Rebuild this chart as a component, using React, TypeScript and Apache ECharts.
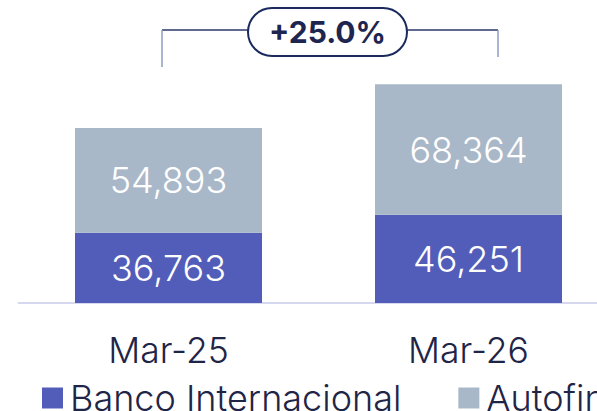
import React, { useEffect, useRef } from "react";
import * as echarts from "echarts";

const categories = ["Mar-25", "Mar-26"];
const seriesNames = ["Banco Internacional", "Autofin"];
const bancoValues = [36763, 46251];
const autofinValues = [54893, 68364];
const colors = ["#525dba", "#a9b8c8"];

const FONT = "Inter, 'Noto Sans', sans-serif";
const NAVY = "#1f2547";

export default function App() {
  const ref = useRef<HTMLDivElement>(null);
  useEffect(() => {
    if (!ref.current) return;
    const chart = echarts.init(ref.current, undefined, { renderer: "svg" });
    const t0 = bancoValues[0] + autofinValues[0];
    const t1 = bancoValues[1] + autofinValues[1];
    const growth = ((t1 / t0 - 1) * 100).toFixed(1);
    const fmt = (p: any) => Number(p.value).toLocaleString("en-US");
    chart.setOption({
      animation: false,
      textStyle: { fontFamily: FONT },
      grid: { left: 18.5, right: 21.5, top: 74, bottom: 108 },
      xAxis: {
        type: "category",
        data: categories,
        axisLine: { show: true, lineStyle: { color: "#d5d8ee", width: 2 } },
        axisTick: { show: false },
        axisLabel: {
          color: NAVY,
          fontSize: 35.5,
          fontWeight: 300,
          fontFamily: FONT,
          margin: 29,
        },
      },
      yAxis: {
        type: "value",
        min: 0,
        max: 120000,
        show: false,
        splitLine: { show: false },
      },
      legend: {
        left: 37,
        top: 375,
        width: 1000,
        icon: "rect",
        itemWidth: 21,
        itemHeight: 21,
        itemGap: 57,
        selectedMode: false,
        textStyle: {
          color: NAVY,
          fontSize: 36,
          fontWeight: 300,
          fontFamily: FONT,
          padding: [0, 0, 0, 2],
        },
        data: seriesNames,
      },
      series: [
        {
          name: seriesNames[0],
          type: "bar",
          stack: "total",
          data: bancoValues,
          barWidth: 187,
          itemStyle: { color: colors[0] },
          label: {
            show: true,
            position: "inside",
            color: "#ffffff",
            fontSize: 36,
            fontWeight: 300,
            fontFamily: FONT,
            formatter: fmt,
          },
        },
        {
          name: seriesNames[1],
          type: "bar",
          stack: "total",
          data: autofinValues,
          barWidth: 187,
          itemStyle: { color: colors[1] },
          label: {
            show: true,
            position: "inside",
            color: "#ffffff",
            fontSize: 36,
            fontWeight: 300,
            fontFamily: FONT,
            formatter: fmt,
          },
        },
      ],
      graphic: [
        {
          type: "line",
          shape: { x1: 162, y1: 30, x2: 498, y2: 30 },
          style: { stroke: "#2b3868", lineWidth: 1.5 },
          z: 10,
        },
        {
          type: "line",
          shape: { x1: 162, y1: 30, x2: 162, y2: 67 },
          style: { stroke: "#8e9cc0", lineWidth: 1.5 },
          z: 11,
        },
        {
          type: "line",
          shape: { x1: 498, y1: 30, x2: 498, y2: 57 },
          style: { stroke: "#8e9cc0", lineWidth: 1.5 },
          z: 11,
        },
        {
          type: "rect",
          shape: { x: 248, y: 8, width: 159, height: 48, r: 24 },
          style: { fill: "#ffffff", stroke: "#1b2a5c", lineWidth: 2 },
          z: 12,
        },
        {
          type: "text",
          x: 327.5,
          y: 32,
          style: {
            text: "+" + growth + "%",
            fill: "#1e2550",
            fontSize: 30,
            fontWeight: "bold",
            fontFamily: FONT,
            align: "center",
            verticalAlign: "middle",
          },
          z: 13,
        },
      ],
    });
    return () => chart.dispose();
  }, []);
  return (
    <div
      style={{
        position: "fixed",
        left: 0,
        top: 0,
        width: 597,
        height: 411,
        overflow: "hidden",
        background: "#ffffff",
      }}
    >
      <div ref={ref} style={{ width: 640, height: 411 }} />
    </div>
  );
}
